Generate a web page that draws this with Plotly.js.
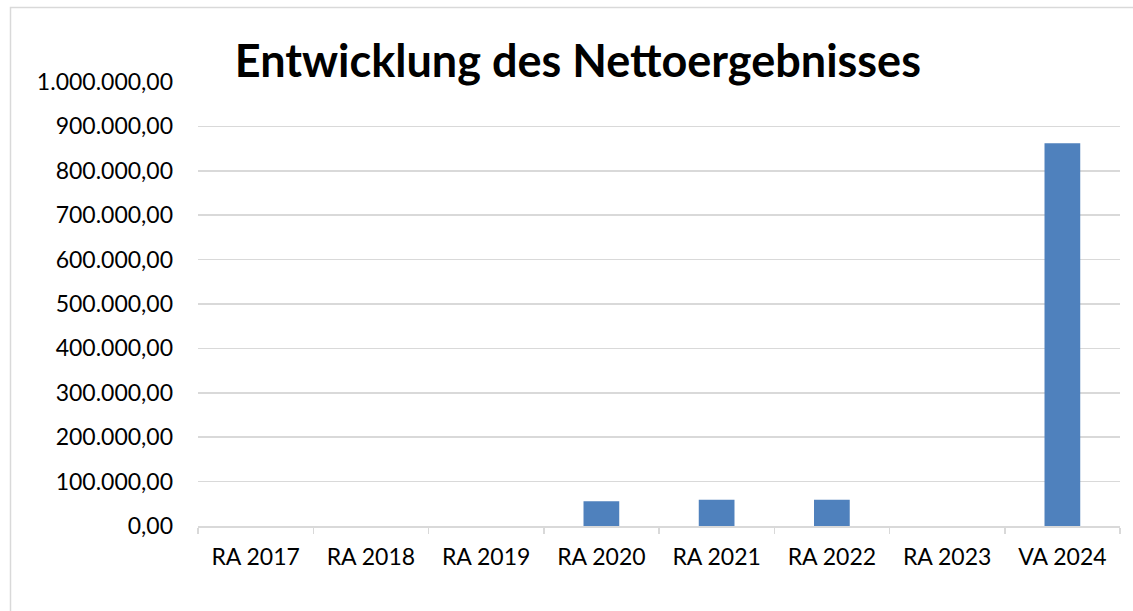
<!DOCTYPE html>
<html><head><meta charset="utf-8">
<script src="https://cdn.plot.ly/plotly-3.0.1.min.js"></script>
<style>html,body{margin:0;padding:0;background:#fff}#chart{width:1133px;height:611px}</style>
</head><body><div id="chart"></div>
<script>
const categories = ["RA 2017","RA 2018","RA 2019","RA 2020","RA 2021","RA 2022","RA 2023","VA 2024"];
const values = [0, 0, 0, 56000, 59000, 59000, 0, 862000];
const yTicks = [0,100000,200000,300000,400000,500000,600000,700000,800000,900000,1000000];

const font = "Lato, 'Open Sans', sans-serif";
Plotly.newPlot("chart", [{
  type: "bar",
  x: categories,
  y: values,
  marker: {color: "#4f81bd", line: {width: 0}},
  hoverinfo: "x+y"
}], {
  width: 1133, height: 611,
  margin: {l: 198, r: 13, t: 82, b: 85},
  paper_bgcolor: "#fff", plot_bgcolor: "#fff",
  separators: ",.",
  bargap: 0.69,
  showlegend: false,
  title: {text: "<b>Entwicklung des Nettoergebnisses</b>", font: {family: font, size: 45, color: "#000"},
          x: 0.412, xref: "paper", xanchor: "center", y: 0.9, yanchor: "middle", yref: "container"},
  xaxis: {
    type: "category", tickfont: {family: font, size: 23, color: "#000"},
    showgrid: false, showline: true, linecolor: "#d9d9d9", linewidth: 1.5,
    ticks: "outside", tickson: "boundaries", ticklen: 6, tickcolor: "#d9d9d9", tickwidth: 1.5,
    ticklabelstandoff: 10
  },
  yaxis: {
    range: [0, 1000000], tickvals: yTicks, tickformat: ",.2f",
    tickfont: {family: font, size: 23, color: "#000"},
    showgrid: true, gridcolor: "#d9d9d9", gridwidth: 1.5,
    zeroline: false, showline: false, ticks: "", ticklabelstandoff: 24
  },
  shapes: [{type: "rect", xref: "paper", yref: "paper",
            x0: (10.5-198)/922, x1: (1145-198)/922, y0: (526-625)/444, y1: (526-7.5)/444,
            line: {color: "#d9d9d9", width: 1.5}, fillcolor: "rgba(0,0,0,0)", layer: "below"}]
}, {displayModeBar: false, staticPlot: true});
</script></body></html>
